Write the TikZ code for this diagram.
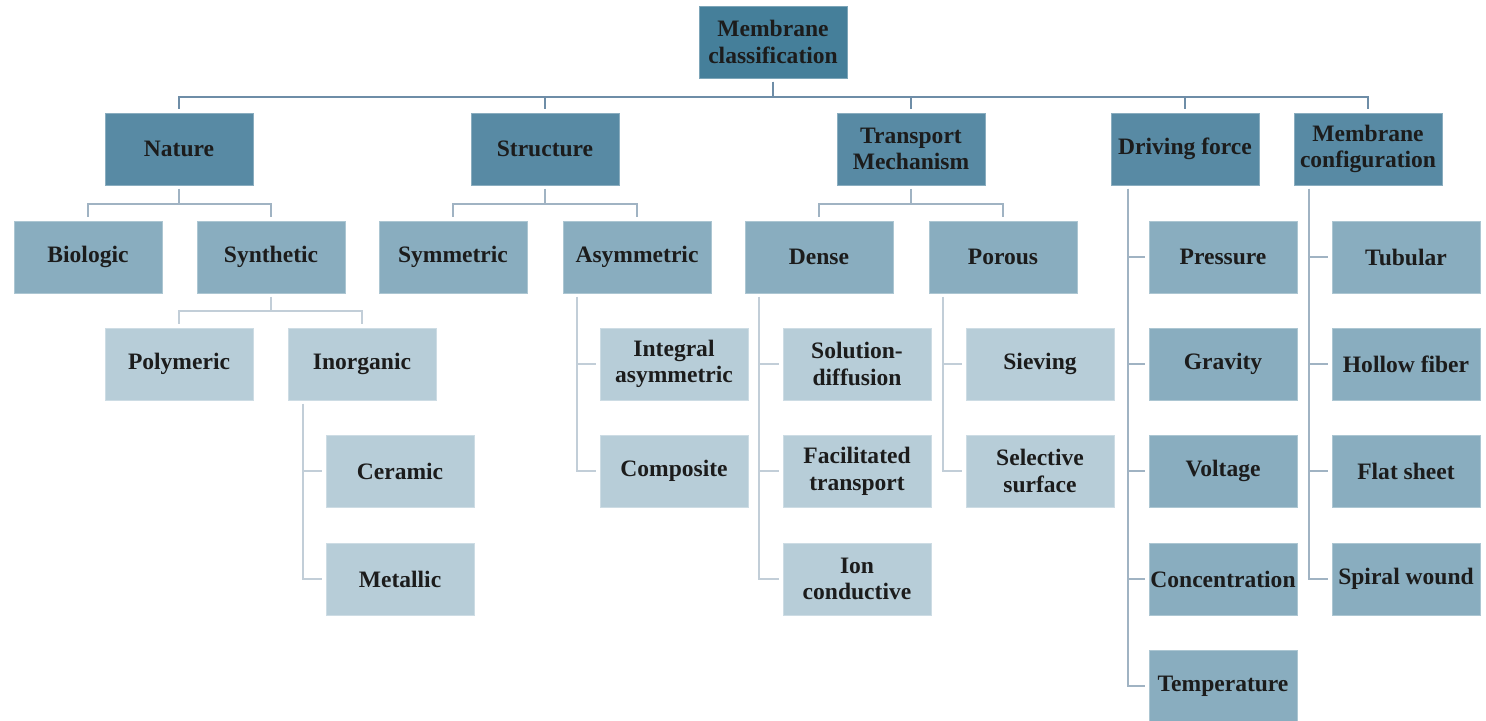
\documentclass[tikz,border=0pt]{standalone}
\usepackage{tikz}
\usepackage{fontspec}
\setmainfont{Liberation Serif}

\definecolor{rootblue}{HTML}{457F9A}
\definecolor{lvlone}{HTML}{588AA4}
\definecolor{lvltwo}{HTML}{89ADBF}
\definecolor{lvlthree}{HTML}{B7CDD8}
\definecolor{topline}{HTML}{6E8DA7}
\definecolor{midline}{HTML}{A0B3C3}
\definecolor{lowline}{HTML}{C2CED8}
\definecolor{boxtext}{HTML}{1C1C1C}

\tikzset{
	box/.style={rectangle, minimum width=2.96cm, minimum height=1.44cm, inner sep=0pt,
		align=center, text=boxtext, font=\fontsize{13.4}{15.2}\selectfont\bfseries},
	rootbox/.style={box, fill=rootblue, draw=rootblue!70!white, line width=0.5pt},
	onebox/.style={box, fill=lvlone, draw=lvlone!70!white, line width=0.5pt},
	twobox/.style={box, fill=lvltwo, draw=lvltwo!70!white, line width=0.5pt},
	threebox/.style={box, fill=lvlthree, draw=lvlthree!70!white, line width=0.5pt},
	toplink/.style={topline, line width=1.3pt, shorten <=0.07cm, shorten >=0.07cm},
	midlink/.style={midline, line width=1.2pt, shorten <=0.07cm, shorten >=0.07cm},
	lowlink/.style={lowline, line width=1.2pt, shorten <=0.07cm, shorten >=0.07cm}
}

\begin{document}
\begin{tikzpicture}[x=0.02cm,y=-0.02cm]
	\useasboundingbox (0,0) rectangle (1486,720);

	\node[rootbox] (root) at (773,42) {Membrane\\classification};

	\node[onebox] (nature) at (179,149) {Nature};
	\node[onebox] (struct) at (545,149) {Structure};
	\node[onebox] (trans) at (911,149) {Transport\\Mechanism};
	\node[onebox] (drive) at (1185,149) {Driving force};
	\node[onebox] (config) at (1368,149) {Membrane\\configuration};

	\node[twobox] (bio) at (88,257) {Biologic};
	\node[twobox] (synth) at (271,257) {Synthetic};
	\node[twobox] (sym) at (453,257) {Symmetric};
	\node[twobox] (asym) at (637,257) {Asymmetric};
	\node[twobox] (dense) at (819,257) {Dense};
	\node[twobox] (porous) at (1003,257) {Porous};

	\node[twobox] (press) at (1223,257) {Pressure};
	\node[twobox] (grav) at (1223,364) {Gravity};
	\node[twobox] (volt) at (1223,471) {Voltage};
	\node[twobox] (conc) at (1223,579) {Concentration};
	\node[twobox] (temp) at (1223,686) {Temperature};

	\node[twobox] (tub) at (1406,257) {Tubular};
	\node[twobox] (hollow) at (1406,364) {Hollow fiber};
	\node[twobox] (flat) at (1406,471) {Flat sheet};
	\node[twobox] (spiral) at (1406,579) {Spiral wound};

	\node[threebox] (poly) at (179,364) {Polymeric};
	\node[threebox] (inorg) at (362,364) {Inorganic};
	\node[threebox] (ceram) at (400,471) {Ceramic};
	\node[threebox] (metal) at (400,579) {Metallic};

	\node[threebox] (integ) at (674,364) {Integral\\asymmetric};
	\node[threebox] (compo) at (674,471) {Composite};

	\node[threebox] (soldiff) at (857,364) {Solution-\\diffusion};
	\node[threebox] (facil) at (857,471) {Facilitated\\transport};
	\node[threebox] (ion) at (857,579) {Ion\\conductive};

	\node[threebox] (siev) at (1040,364) {Sieving};
	\node[threebox] (selec) at (1040,471) {Selective\\surface};

	\coordinate (rootbus) at (773,97);
	\coordinate (naturebus) at (179,204);
	\coordinate (structbus) at (545,204);
	\coordinate (transbus) at (911,204);
	\coordinate (synthbus) at (271,311);

	\foreach \c in {nature,struct,trans,drive,config}
		\draw[toplink] (root.south) -- (rootbus) -| (\c.north);

	\foreach \c in {bio,synth}
		\draw[midlink] (nature.south) -- (naturebus) -| (\c.north);
	\foreach \c in {sym,asym}
		\draw[midlink] (struct.south) -- (structbus) -| (\c.north);
	\foreach \c in {dense,porous}
		\draw[midlink] (trans.south) -- (transbus) -| (\c.north);

	\foreach \c in {press,grav,volt,conc,temp}
		\draw[midlink] ([xshift=0.34cm]drive.south west) |- (\c.west);
	\foreach \c in {tub,hollow,flat,spiral}
		\draw[midlink] ([xshift=0.3cm]config.south west) |- (\c.west);

	\foreach \c in {poly,inorg}
		\draw[lowlink] (synth.south) -- (synthbus) -| (\c.north);
	\foreach \c in {ceram,metal}
		\draw[lowlink] ([xshift=0.3cm]inorg.south west) |- (\c.west);
	\foreach \c in {integ,compo}
		\draw[lowlink] ([xshift=0.28cm]asym.south west) |- (\c.west);
	\foreach \c in {soldiff,facil,ion}
		\draw[lowlink] ([xshift=0.28cm]dense.south west) |- (\c.west);
	\foreach \c in {siev,selec}
		\draw[lowlink] ([xshift=0.28cm]porous.south west) |- (\c.west);

\end{tikzpicture}
\end{document}
